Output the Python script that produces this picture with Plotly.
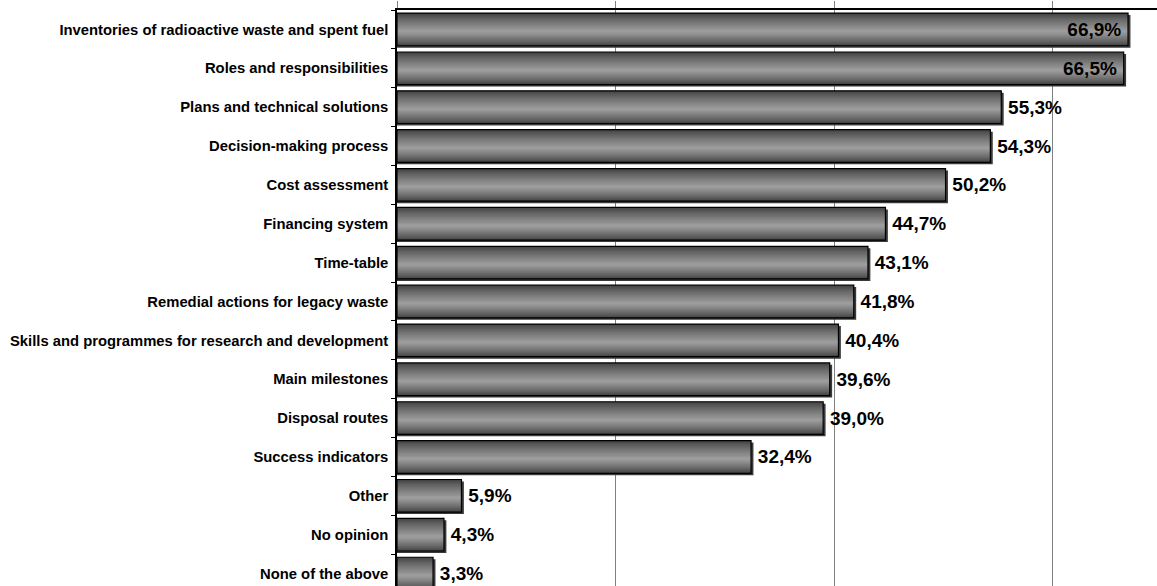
import plotly.graph_objects as go

categories = [
    "Inventories of radioactive waste and spent fuel",
    "Roles and responsibilities",
    "Plans and technical solutions",
    "Decision-making process",
    "Cost assessment",
    "Financing system",
    "Time-table",
    "Remedial actions for legacy waste",
    "Skills and programmes for research and development",
    "Main milestones",
    "Disposal routes",
    "Success indicators",
    "Other",
    "No opinion",
    "None of the above",
]
values = [66.9, 66.5, 55.3, 54.3, 50.2, 44.7, 43.1, 41.8, 40.4, 39.6, 39.0, 32.4, 5.9, 4.3, 3.3]
label_positions = ["inside", "inside"] + ["outside"] * 13
label_templates = ["%{x:.1f}%\u2009", "%{x:.1f}%\u2009"] + ["\u2009%{x:.1f}%"] * 13

BAR_W = 0.84
fig = go.Figure()

# shadow
fig.add_trace(go.Bar(
    y=categories, x=[v + 0.22 for v in values], orientation="h",
    width=BAR_W, offset=-BAR_W / 2 + 0.05,
    marker=dict(color="#3a3a3a", line=dict(width=0)),
    hoverinfo="skip", showlegend=False,
))

# gradient layers (outer dark -> inner light), lightest band slightly below centre
n_layers = 16
edge_rgb, centre_rgb = 0x42, 0x9c
for k in range(n_layers):
    t = k / (n_layers - 1)
    w = BAR_W * (1 - t) + 0.05 * t
    g = int(edge_rgb + (centre_rgb - edge_rgb) * (t ** 0.8))
    shift = 0.05 * t
    off = -w / 2 + shift
    # keep layer inside the outer bar
    off = max(off, -BAR_W / 2)
    if off + w > BAR_W / 2:
        off = BAR_W / 2 - w
    fig.add_trace(go.Bar(
        y=categories, x=values, orientation="h",
        width=w, offset=off,
        marker=dict(color=f"rgb({g},{g},{g})", line=dict(width=0)),
        hoverinfo="skip", showlegend=False,
    ))

# outline + labels
fig.add_trace(go.Bar(
    y=categories, x=values, orientation="h", width=BAR_W, offset=-BAR_W / 2,
    marker=dict(color="rgba(0,0,0,0)", line=dict(color="#000000", width=1.2)),
    texttemplate=label_templates, textposition=label_positions,
    insidetextanchor="end",
    textfont=dict(family="Liberation Sans, Arial, sans-serif", size=19, color="#000000", weight="bold"),
    cliponaxis=False, showlegend=False,
))

fig.update_layout(
    width=1157, height=586,
    margin=dict(l=397, r=0, t=10, b=0),
    barmode="overlay",
    separators=", ",
    plot_bgcolor="#ffffff", paper_bgcolor="#ffffff",
    uniformtext=dict(mode=False),
    xaxis=dict(
        side="top", range=[0, 69.55], tickvals=[0, 20, 40, 60],
        showticklabels=False, ticks="outside", ticklen=7, tickcolor="#808080",
        showgrid=True, gridcolor="#808080", gridwidth=1,
        showline=True, linecolor="#000000", linewidth=1.5, zeroline=False,
    ),
    yaxis=dict(
        type="category", categoryorder="array", categoryarray=categories,
        range=[14.32, -0.5], tickson="boundaries", ticks="outside", ticklen=4,
        tickcolor="#000000", showline=True, linecolor="#000000", linewidth=1.5,
        showgrid=False, ticklabelstandoff=4,
        tickfont=dict(family="Liberation Sans, Arial, sans-serif", size=14.8, color="#000000", weight="bold"),
    ),
    font=dict(family="Liberation Sans, Arial, sans-serif"),
)

fig.write_html("out.html")
